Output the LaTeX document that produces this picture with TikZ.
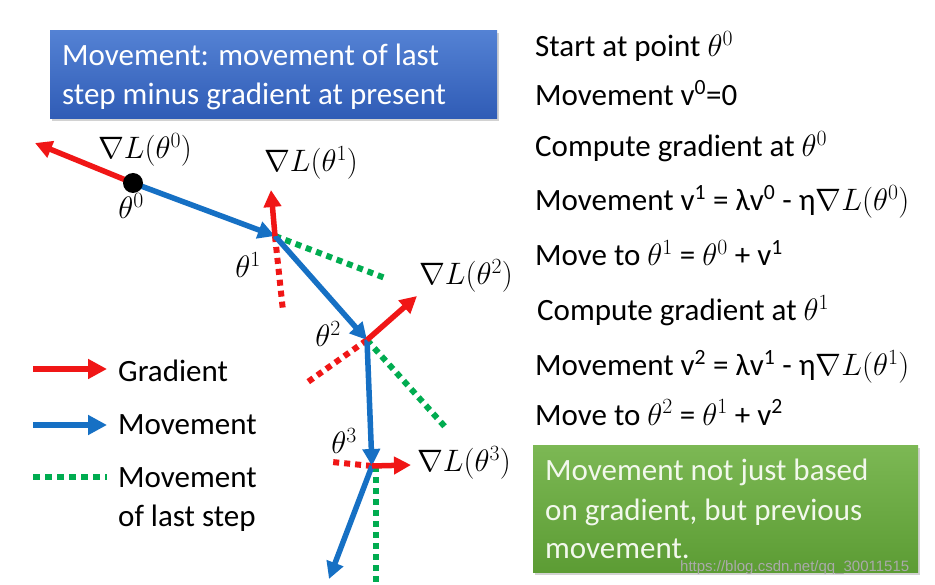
\RequirePackage{fix-cm}
\documentclass[tikz,border=0pt]{standalone}
\usepackage{fontspec}
\setmainfont{Carlito}
\newfontfamily\wmfont{Liberation Sans}
\usetikzlibrary{arrows.meta,shadows}
\definecolor{gred}{RGB}{240,22,22}
\definecolor{mblue}{RGB}{22,112,196}
\definecolor{lgreen}{RGB}{0,172,80}
\definecolor{btop}{RGB}{84,130,212}
\definecolor{bbot}{RGB}{48,92,182}
\definecolor{gtop}{RGB}{124,184,84}
\definecolor{gbot}{RGB}{92,156,52}
\begin{document}
\begin{tikzpicture}[x=1pt,y=-1pt,
  every node/.style={font=\fontsize{31}{39}\selectfont, inner sep=0pt},
  gradarrow/.style={draw=gred, line width=5.5pt, -{Triangle[length=17pt,width=17pt]}},
  movearrow/.style={draw=mblue, line width=5.5pt, -{Triangle[length=17pt,width=17pt]}},
  lastmove/.style={draw=lgreen, line width=6pt, dash pattern=on 6pt off 5pt},
  gradlast/.style={draw=gred, line width=6pt, dash pattern=on 6pt off 5pt},
  txt/.style={anchor=base west},
  wtxt/.style={anchor=base west, text=white},
  lbl/.style={anchor=center},
  boxblue/.style={rectangle, top color=btop, bottom color=bbot, draw=none,
     drop shadow={opacity=0.35, shadow xshift=1.5pt, shadow yshift=-2.5pt}},
  boxgreen/.style={rectangle, top color=gtop, bottom color=gbot, draw=none,
     drop shadow={opacity=0.35, shadow xshift=1.5pt, shadow yshift=-2.5pt}}
]
\useasboundingbox (0,0) rectangle (935,585);
\fill[white] (0,0) rectangle (935,585);

% boxes
\node[boxblue, anchor=north west, minimum width=447pt, minimum height=88pt] (bb) at (50,30) {};
\node[wtxt] (bt1) at (62,66) {Movement: movement of last};
\node[wtxt] (bt2) at (62,105) {step minus gradient at present};

\node[boxgreen, anchor=north west, minimum width=385pt, minimum height=127pt] (gb) at (533,445) {};
\node[anchor=base west, text={rgb,255:red,242;green,248;blue,236}] (gt1) at (545,480) {Movement not just based};
\node[anchor=base west, text={rgb,255:red,242;green,248;blue,236}] (gt2) at (545,520) {on gradient, but previous};
\node[anchor=base west, text={rgb,255:red,242;green,248;blue,236}] (gt3) at (545,558) {movement.};
\node[anchor=base west, font=\wmfont\fontsize{15}{18}\selectfont, text={rgb,255:red,170;green,170;blue,170}] (wm) at (680,571) {https://blog.csdn.net/qq\_30011515};

% right column
\node[txt] (r1) at (535,57) {Start at point $\theta^0$};
\node[txt] (r2) at (535,106) {Movement v\textsuperscript{0}=0};
\node[txt] (r3) at (535,157) {Compute gradient at $\theta^0$};
\node[txt] (r4) at (535,211) {Movement v\textsuperscript{1} = λv\textsuperscript{0} - η$\nabla L(\theta^0)$};
\node[txt] (r5) at (535,266) {Move to $\theta^1$ = $\theta^0$ + v\textsuperscript{1}};
\node[txt] (r6) at (537,321) {Compute gradient at $\theta^1$};
\node[txt] (r7) at (535,376) {Movement v\textsuperscript{2} = λv\textsuperscript{1} - η$\nabla L(\theta^1)$};
\node[txt] (r8) at (535,425) {Move to $\theta^2$ = $\theta^1$ + v\textsuperscript{2}};

% points
\coordinate (t0) at (133,183);
\coordinate (t1) at (275,236);
\coordinate (t2) at (367,340);
\coordinate (t3) at (372,466);
\coordinate (g0) at (35,143);
\coordinate (g1) at (271,190);
\coordinate (g2) at (417,296);
\coordinate (g3) at (411,465);
\coordinate (rd1) at (283,311);
\coordinate (gd1) at (385,278);
\coordinate (rd2) at (305,384);
\coordinate (gd2) at (447,429);
\coordinate (rd3) at (332,462);
\coordinate (gd3) at (376,582);
\coordinate (m4) at (329,579);

% last-step movements and gradient continuations
\draw[gradlast] (t1) -- (rd1);
\draw[lastmove] (t1) -- (gd1);
\draw[gradlast] (t2) -- (rd2);
\draw[lastmove] (t2) -- (gd2);
\draw[gradlast] (t3) -- (rd3);
\draw[lastmove] ([xshift=4pt]t3) -- (gd3);

% movements
\draw[movearrow] (t0) -- (t1);
\draw[movearrow] (t1) -- (t2);
\draw[movearrow] (t2) -- (t3);
\draw[movearrow] (t3) -- (m4);

% gradients
\draw[gradarrow] (t0) -- (g0);
\draw[gradarrow] (t1) -- (g1);
\draw[gradarrow] (t2) -- (g2);
\draw[gradarrow] (t3) -- (g3);

\fill[black] (t0) circle (10pt);

% labels
\node[lbl] (lg0) at (145,150) {$\nabla L(\theta^0)$};
\node[lbl] (lt0) at (131,206) {$\theta^0$};
\node[lbl] (lg1) at (311,163) {$\nabla L(\theta^1)$};
\node[lbl] (lt1) at (248,265) {$\theta^1$};
\node[lbl] (lg2) at (466,276) {$\nabla L(\theta^2)$};
\node[lbl] (lt2) at (328,334) {$\theta^2$};
\node[lbl] (lt3) at (344,441) {$\theta^3$};
\node[lbl] (lg3) at (464,463) {$\nabla L(\theta^3)$};

% legend
\coordinate (la) at (33,369); \coordinate (lb) at (107,369);
\draw[gradarrow, -{Triangle[length=19pt,width=19pt]}] (la) -- (lb);
\node[txt] (lgt) at (118,382) {Gradient};
\coordinate (lc) at (33,425); \coordinate (ld) at (107,425);
\draw[movearrow, -{Triangle[length=19pt,width=19pt]}] (lc) -- (ld);
\node[txt] (lmt) at (118,435) {Movement};
\coordinate (le) at (33,477); \coordinate (lf) at (107,477);
\draw[lastmove, dash pattern=on 7pt off 5pt] (le) -- (lf);
\node[txt] (llt1) at (118,487) {Movement};
\node[txt] (llt2) at (118,526) {of last step};
\end{tikzpicture}
\end{document}
